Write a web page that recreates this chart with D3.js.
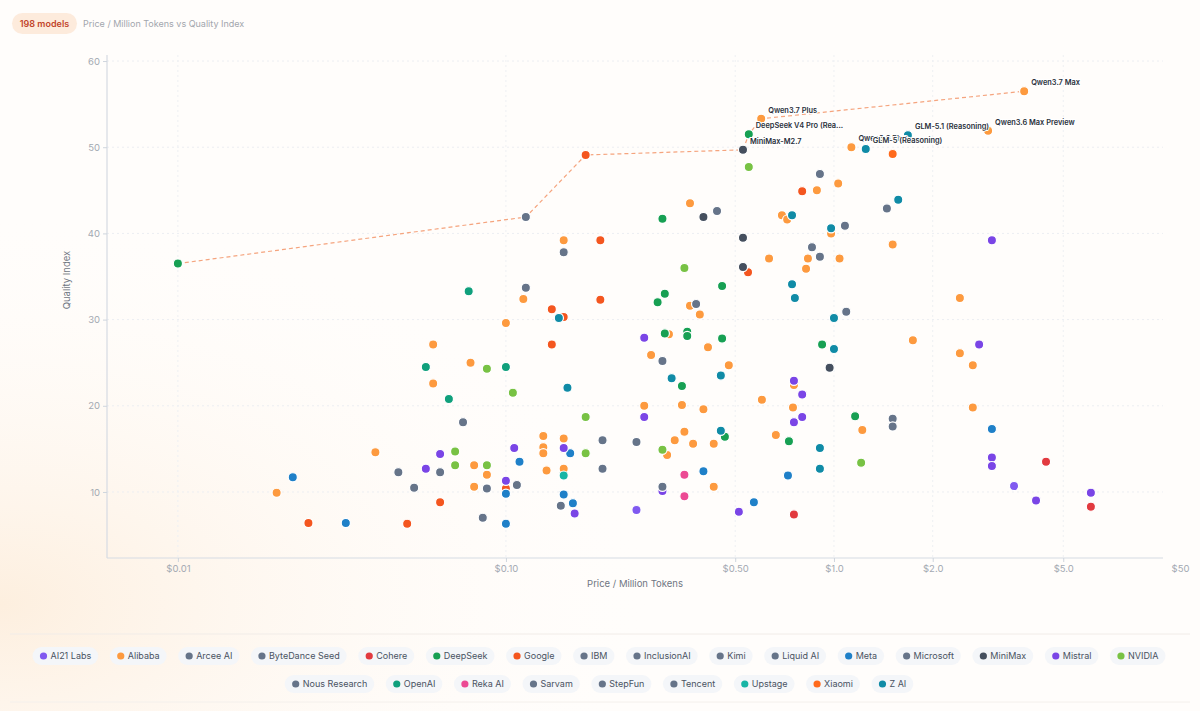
<!DOCTYPE html>
<html>
<head>
<meta charset="utf-8">
<script src="https://cdn.jsdelivr.net/npm/d3@7"></script>
<style>
  html, body { margin: 0; padding: 0; background: #fffdfb; }
  svg { display: block; font-family: Inter, "Noto Sans", sans-serif; }
</style>
</head>
<body>
<svg id="chart" width="1200" height="711"></svg>
<script>
// Legend order of providers
var companies = ["AI21 Labs", "Alibaba", "Arcee AI", "ByteDance Seed", "Cohere", "DeepSeek", "Google", "IBM",
  "InclusionAI", "Kimi", "Liquid AI", "Meta", "Microsoft", "MiniMax", "Mistral", "NVIDIA",
  "Nous Research", "OpenAI", "Reka AI", "Sarvam", "StepFun", "Tencent", "Upstage", "Xiaomi", "Z AI"];

var companyColors = ["#8059f0", "#fd9a3f", "#667489", "#667489", "#e23a3f", "#17a053", "#f4561f", "#667489",
  "#667489", "#667489", "#667489", "#1f80c8", "#667489", "#454f5e", "#7a45e6", "#78c244",
  "#667489", "#10a07c", "#ec4a94", "#667489", "#667489", "#667489", "#17b5a5", "#ff6a1c", "#108ba6"];

// [price per million tokens, quality index, optional name]
var ai21 = [[0.25, 7.9], [3.54, 10.7]];
var alibaba = [[0.02, 9.9], [0.04, 14.6], [0.06, 27.1], [0.06, 22.6], [0.078, 25.0], [0.08, 13.1], [0.08, 10.6],
  [0.0875, 12.0], [0.113, 32.4], [0.10, 29.6], [0.13, 16.5], [0.13, 15.2], [0.13, 14.5], [0.133, 12.5],
  [0.15, 16.2], [0.15, 15.0], [0.15, 12.7], [0.15, 39.2], [0.264, 20.0], [0.277, 25.9], [0.31, 14.3],
  [0.327, 16.0], [0.344, 20.1], [0.35, 17.0], [0.364, 43.5], [0.364, 31.6], [0.39, 30.6], [0.314, 28.3],
  [0.372, 15.6], [0.40, 19.6], [0.413, 26.8], [0.43, 15.6], [0.43, 10.6], [0.478, 24.7], [0.603, 20.7],
  [0.634, 37.1], [0.665, 16.6], [0.694, 42.1], [0.72, 41.6], [0.75, 19.8], [0.755, 22.4], [0.822, 35.9],
  [0.833, 37.1], [0.887, 45.0], [0.98, 40.0], [1.03, 45.8], [1.04, 37.1], [1.22, 17.2], [1.51, 38.7],
  [1.74, 27.6], [2.42, 32.5], [2.42, 26.1], [2.65, 24.7], [2.65, 19.8],
  [0.6, 53.3, "Qwen3.7 Plus"], [1.13, 50.0, "Qwen3.6 Plus"], [2.95, 51.9, "Qwen3.6 Max Preview"], [3.8, 56.5, "Qwen3.7 Max"]];
var arcee = [[0.047, 12.3], [0.0875, 10.4], [0.25, 15.8]];
var bytedance = [[0.44, 42.6], [0.906, 37.3], [0.197, 16.0]];
var cohere = [[0.755, 7.4], [4.43, 13.5], [6.07, 8.3]];
var deepseek = [[0.01, 36.5], [0.29, 32.0], [0.30, 41.7], [0.305, 33.0], [0.305, 28.4], [0.357, 28.6], [0.357, 28.1],
  [0.344, 22.3], [0.456, 33.9], [0.456, 27.8], [0.465, 16.4], [0.729, 15.9], [0.92, 27.1], [1.16, 18.8],
  [0.55, 51.5, "DeepSeek V4 Pro (Reasoning)"]];
var google = [[0.025, 6.4], [0.05, 6.3], [0.063, 8.8], [0.1, 10.4], [0.138, 27.1], [0.138, 31.2], [0.15, 30.3],
  [0.194, 39.2], [0.194, 32.3], [0.175, 49.1], [0.547, 35.5], [0.80, 44.9]];
var ibm = [[0.0525, 10.5], [0.063, 12.3], [0.085, 7.0]];
var inclusion = [[0.115, 33.7], [1.08, 40.9], [0.30, 25.2]];
var kimi = [[0.906, 46.9], [1.45, 42.9], [0.857, 38.4], [1.09, 30.9]];
var liquid = [[0.108, 10.8], [0.147, 8.4]];
var meta = [[0.0224, 11.7], [0.0325, 6.4], [0.1, 9.8], [0.1, 6.3], [0.11, 13.5], [0.15, 9.7], [0.157, 14.5],
  [0.16, 8.7], [0.40, 12.4], [0.57, 8.8], [0.724, 11.9], [3.03, 17.3]];
var microsoft = [[0.074, 18.1], [0.197, 12.7], [1.51, 18.5], [1.51, 17.6]];
var minimax = [[0.40, 41.9], [0.528, 39.5], [0.528, 36.1], [0.97, 24.4], [0.528, 49.7, "MiniMax-M2.7"]];
var mistral = [[0.057, 12.7], [0.063, 14.4], [0.1, 11.3], [0.106, 15.1], [0.15, 15.1], [0.162, 7.5], [0.264, 27.9],
  [0.264, 18.7], [0.30, 10.1], [0.513, 7.7], [0.755, 22.9], [0.755, 18.1], [0.80, 21.3], [0.80, 18.7],
  [2.77, 27.1], [3.03, 39.2], [3.03, 14.0], [3.03, 13.0], [4.13, 9.0], [6.07, 9.9]];
var nvidia = [[0.07, 14.7], [0.07, 13.1], [0.0875, 24.3], [0.0875, 13.1], [0.105, 21.5], [0.175, 18.7],
  [0.175, 14.5], [0.30, 14.9], [0.35, 36.0], [0.55, 47.7], [1.21, 13.4]];
var nous = [[0.15, 37.8]];
var openai = [[0.057, 24.5], [0.067, 20.8], [0.077, 33.3], [0.1, 24.5]];
var reka = [[0.35, 12.0], [0.35, 9.5]];
var sarvam = [[0.30, 10.6]];
var stepfun = [[0.115, 41.9]];
var tencent = [[0.38, 31.8]];
var upstage = [[0.15, 11.9]];
var xiaomi = [[1.51, 49.2]];
var zai = [[0.145, 30.2], [0.154, 22.1], [0.32, 23.2], [0.452, 23.5], [0.452, 17.1], [0.745, 42.1], [0.745, 34.1],
  [0.76, 32.5], [0.906, 15.1], [0.906, 12.7], [0.98, 40.6], [1.0, 30.2], [1.0, 26.6], [1.57, 43.9],
  [1.25, 49.8, "GLM-5 (Reasoning)"], [1.68, 51.4, "GLM-5.1 (Reasoning)"]];

var seriesByCompany = [ai21, alibaba, arcee, bytedance, cohere, deepseek, google, ibm, inclusion, kimi, liquid,
  meta, microsoft, minimax, mistral, nvidia, nous, openai, reka, sarvam, stepfun, tencent, upstage, xiaomi, zai];

// Axis ticks
var xTicks = [0.01, 0.1, 0.5, 1, 2, 5, 50];
var xTickLabels = ["$0.01", "$0.10", "$0.50", "$1.0", "$2.0", "$5.0", "$50"];
var yTicks = [10, 20, 30, 40, 50, 60];

// Legend rows
var legendRows = [companies.slice(0, 16), companies.slice(16)];

var svg = d3.select("#chart");
var margin = {left: 107, right: 37, top: 55, bottom: 153};
var width = 1200, height = 711;

// background glow
var defs = svg.append("defs");
var glow = defs.append("radialGradient").attr("id", "glow")
  .attr("cx", 0).attr("cy", 0.85).attr("r", 0.55);
glow.append("stop").attr("offset", "0%").attr("stop-color", "#fdeedd").attr("stop-opacity", 0.95);
glow.append("stop").attr("offset", "100%").attr("stop-color", "#fffdfb").attr("stop-opacity", 0);
svg.append("rect").attr("width", width).attr("height", height).attr("fill", "#fffdfb");
svg.append("rect").attr("width", width).attr("height", height).attr("fill", "url(#glow)");

// header
var badge = svg.append("g");
badge.append("rect").attr("x", 12).attr("y", 13).attr("width", 65).attr("height", 21).attr("rx", 10.5)
  .attr("fill", "#fdebdc");
badge.append("text").attr("x", 44.5).attr("y", 27.3).attr("text-anchor", "middle")
  .attr("font-size", 9).attr("font-weight", 600).attr("fill", "#c2452a").text("198 models");
svg.append("text").attr("x", 83).attr("y", 27.3).attr("font-size", 9).attr("fill", "#a2a6ad")
  .text("Price / Million Tokens vs Quality Index");

var x = d3.scaleLog()
  .domain([0.00608, 10.07])
  .range([margin.left, width - margin.right])
  .clamp(true);
var y = d3.scaleLinear()
  .domain([2.34, 60.7])
  .range([height - margin.bottom, margin.top]);

var plotBottom = height - margin.bottom;

// grid
var grid = svg.append("g").attr("class", "grid");
grid.selectAll("line.h").data(yTicks).enter().append("line")
  .attr("x1", margin.left).attr("x2", width - margin.right)
  .attr("y1", d => y(d)).attr("y2", d => y(d))
  .attr("stroke", "#eceef2").attr("stroke-dasharray", "2,3");
grid.selectAll("line.v").data(xTicks.slice(0, -1)).enter().append("line")
  .attr("x1", d => x(d)).attr("x2", d => x(d))
  .attr("y1", margin.top).attr("y2", plotBottom)
  .attr("stroke", "#eef0f3").attr("stroke-dasharray", "2,3");

// axes
var xAxis = svg.append("g").attr("transform", "translate(0," + plotBottom + ")")
  .call(d3.axisBottom(x).tickValues(xTicks).tickSize(4).tickFormat((d, i) => xTickLabels[i]));
var yAxis = svg.append("g").attr("transform", "translate(" + margin.left + ",0)")
  .call(d3.axisLeft(y).tickValues(yTicks).tickSize(4));
[xAxis, yAxis].forEach(a => {
  a.select(".domain").attr("stroke", "#d5dbe3").attr("stroke-width", 1.2);
  a.selectAll(".tick line").attr("stroke", "#cfd5dd");
  a.selectAll(".tick text").attr("fill", "#a3a9b2").attr("font-size", 9.5).attr("font-family", "Inter, sans-serif");
});
xAxis.select(".domain").attr("d", "M" + margin.left + ",0H" + (width - margin.right));
xAxis.selectAll(".tick").filter(d => d === 50).select("line").remove();
xAxis.selectAll(".tick").filter(d => d === 50).select("text").attr("dx", 17);
yAxis.select(".domain").attr("d", "M0," + margin.top + "V" + plotBottom);

svg.append("text").attr("x", (margin.left + width - margin.right) / 2).attr("y", 587)
  .attr("text-anchor", "middle").attr("font-size", 9.5).attr("fill", "#6f7682")
  .text("Price / Million Tokens");
svg.append("text").attr("transform", "translate(70,280) rotate(-90)")
  .attr("text-anchor", "middle").attr("font-size", 9.5).attr("fill", "#6f7682")
  .text("Quality Index");

// flatten points
var points = [];
seriesByCompany.forEach((arr, ci) => {
  arr.forEach(p => points.push({price: p[0], quality: p[1], name: p[2], company: companies[ci], color: companyColors[ci]}));
});

// cost / quality frontier
var sorted = points.slice().sort((a, b) => a.price - b.price || b.quality - a.quality);
var frontier = [];
var best = -Infinity;
sorted.forEach(p => { if (p.quality > best) { frontier.push(p); best = p.quality; } });

svg.append("path").datum(frontier)
  .attr("fill", "none").attr("stroke", "#f5a47e").attr("stroke-width", 1.2)
  .attr("stroke-dasharray", "4,3")
  .attr("d", d3.line().x(d => x(d.price)).y(d => y(d.quality)));

svg.append("g").selectAll("circle").data(points).enter().append("circle")
  .attr("cx", d => x(d.price)).attr("cy", d => y(d.quality))
  .attr("r", 4.6)
  .attr("fill", d => d.color)
  .attr("stroke", "#ffffff").attr("stroke-width", 1.2);

// labels on the best models
var labelled = points.filter(d => d.name);
svg.append("g").selectAll("text").data(labelled).enter().append("text")
  .attr("x", d => x(d.price) + 7).attr("y", d => y(d.quality) - 6)
  .attr("font-size", 7.4).attr("font-weight", 600).attr("fill", "#2b313b")
  .attr("stroke", "#ffffff").attr("stroke-width", 2.2).attr("paint-order", "stroke")
  .text(d => d.name.length > 20 ? d.name.slice(0, 20) + "..." : d.name);

// legend
svg.append("line").attr("x1", 10).attr("x2", 1190).attr("y1", 634).attr("y2", 634)
  .attr("stroke", "#f1ece8");
svg.append("line").attr("x1", 10).attr("x2", 1190).attr("y1", 702).attr("y2", 702)
  .attr("stroke", "#f4f0ec");

var rowY = [656, 684];
var rowWidth = 1133;
var gap = null;
legendRows.forEach((row, ri) => {
  var g = svg.append("g");
  var items = g.selectAll("g").data(row).enter().append("g");
  items.append("rect").attr("class", "pill").attr("y", -9).attr("height", 18).attr("rx", 9)
    .attr("fill", "#f4f6f9");
  items.append("circle").attr("cx", 11).attr("cy", 0).attr("r", 3.6)
    .attr("fill", d => companyColors[companies.indexOf(d)]);
  items.append("text").attr("x", 18).attr("y", 3.2).attr("font-size", 9).attr("fill", "#4a5362")
    .text(d => d);
  var widths = [];
  items.each(function() {
    widths.push(d3.select(this).select("text").node().getComputedTextLength() + 25);
  });
  // spacing taken from the first (widest) row
  if (gap === null) gap = (rowWidth - d3.sum(widths)) / (widths.length - 1);
  var total = d3.sum(widths) + gap * (widths.length - 1);
  var cur = 599 - total / 2;
  items.each(function(d, i) {
    d3.select(this).attr("transform", "translate(" + cur + "," + rowY[ri] + ")");
    d3.select(this).select("rect").attr("width", widths[i]);
    cur += widths[i] + gap;
  });
});
</script>
</body>
</html>
